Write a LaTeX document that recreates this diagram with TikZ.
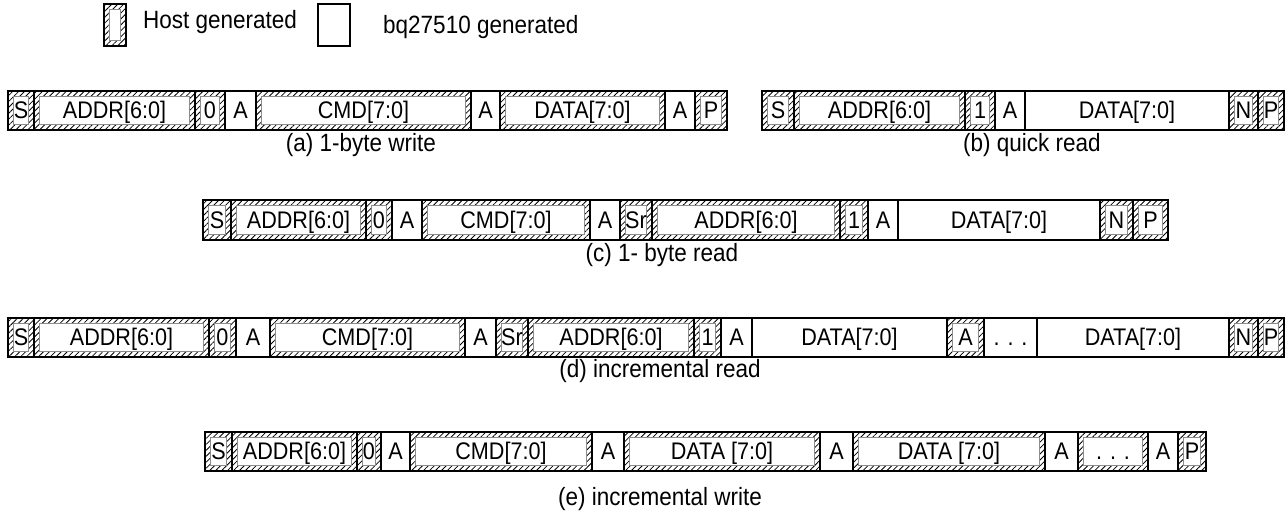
\documentclass[tikz,border=0pt]{standalone}
\usepackage{fontspec}
\setmainfont{Liberation Sans}[FakeStretch=0.9]
\usetikzlibrary{patterns.meta}
\tikzset{
  cell/.style={draw=black, line width=2.2pt, inner sep=0pt, anchor=center,
    font=\fontsize{24}{24}\selectfont, text height=17pt, text depth=1pt},
  cellb/.style={cell, fill=white},
  cellh/.style={cell,
    pattern={Lines[angle=45,distance=4.2pt,line width=0.8pt]},
    path picture={\draw[black!45, line width=1pt, fill=white]
      ([shift={(5.2pt,-5.2pt)}]path picture bounding box.north west) rectangle
      ([shift={(-5.2pt,5.2pt)}]path picture bounding box.south east);}},
  caption/.style={font=\fontsize{25}{25}\selectfont, inner sep=0pt},
  legendtext/.style={font=\fontsize{25}{25}\selectfont, inner sep=0pt, anchor=west}
}
\newcommand\cellrow[4]{%
  \foreach \xa/\xb/\t/\l [count=\i] in {#4} {
    \node[cell\t, minimum width={(\xb-\xa)*1pt}, minimum height={(#3-#2)*1pt}]
      (#1\i) at ({(\xa+\xb)/2},{(#2+#3)/2}) {\l};
  }%
}
\begin{document}
\begin{tikzpicture}[x=1pt,y=-1pt]
\useasboundingbox (0,0) rectangle (1286,514);
% legend
\node[cellh, minimum width=22pt, minimum height=42pt] (lh) at (115,25) {};
\node[legendtext] (lht) at (143,22) {Host generated};
\node[cellb, minimum width=32pt, minimum height=42pt] (lb) at (334,25) {};
\node[legendtext] (lbt) at (383,27) {bq27510 generated};
% (a)
\cellrow{a}{91}{130}{8/34/h/S, 34/195/h/{ADDR[6:0]}, 195/225/h/0, 225/256/b/A, 256/471/h/{CMD[7:0]}, 471/500/b/A, 500/665/h/{DATA[7:0]}, 665/695/b/A, 695/727/h/P}
\node[caption] (capa) at (361,145) {(a) 1-byte write};
% (b)
\cellrow{b}{91}{130}{762/794/h/S, 794/965/h/{ADDR[6:0]}, 965/995/h/1, 995/1025/b/A, 1025/1229/b/{DATA[7:0]}, 1229/1258/h/N, 1258/1284/h/P}
\node[caption] (capb) at (1032,145) {(b) quick read};
% (c)
\cellrow{c}{200}{240}{203/231/h/S, 231/366/h/{ADDR[6:0]}, 366/392/h/0, 392/422/b/A, 422/590/h/{CMD[7:0]}, 590/620/b/A, 620/652/h/Sr, 652/840/h/{ADDR[6:0]}, 840/868/h/1, 868/898/b/A, 898/1100/b/{DATA[7:0]}, 1100/1133/h/N, 1133/1168/h/P}
\node[caption] (capc) at (662,255) {(c) 1- byte read};
% (d)
\cellrow{d}{318}{357}{8/34/h/S, 34/209/h/{ADDR[6:0]}, 209/236/h/0, 236/270/b/A, 270/465/h/{CMD[7:0]}, 465/496/b/A, 496/528/h/Sr, 528/694/h/{ADDR[6:0]}, 694/721/h/1, 721/752/b/A, 752/947/b/{DATA[7:0]}, 947/984/h/A, 984/1037/b/{. . .}, 1037/1229/b/{DATA[7:0]}, 1229/1258/h/N, 1258/1284/h/P}
\node[caption] (capd) at (660,371) {(d) incremental read};
% (e)
\cellrow{e}{432}{471}{205/232/h/S, 232/357/h/{ADDR[6:0]}, 357/381/h/0, 381/410/b/A, 410/592/h/{CMD[7:0]}, 592/624/b/A, 624/820/h/{DATA [7:0]}, 820/853/b/A, 853/1045/h/{DATA [7:0]}, 1045/1078/b/A, 1078/1148/h/{. . .}, 1148/1178/b/A, 1178/1206/h/P}
\node[caption] (cape) at (660,499) {(e) incremental write};
\end{tikzpicture}
\end{document}
